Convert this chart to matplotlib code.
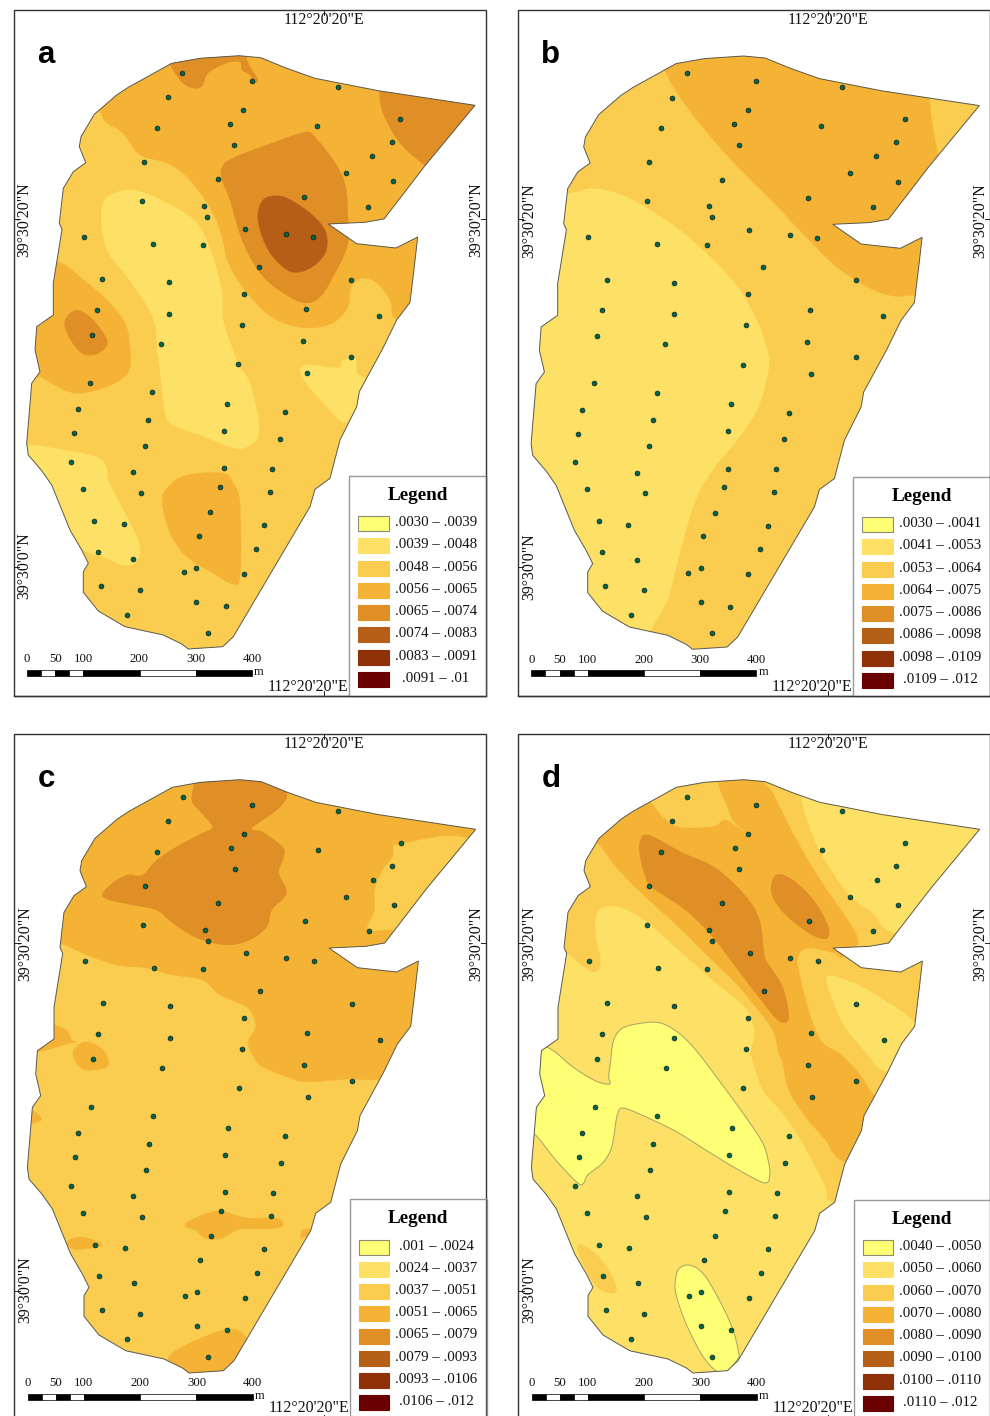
import numpy as np
import matplotlib
matplotlib.use('Agg')
import matplotlib.pyplot as plt
from matplotlib.patches import Polygon, Rectangle

plt.rcParams['font.family'] = ['Liberation Serif', 'DejaVu Sans']

# class colours, lowest to highest
CLASS_COLORS = ['#FFFF75', '#FDE166', '#FACC4F', '#F5B335', '#E08E26', '#B55E17', '#8F320A', '#6B0000']

LEGEND_A = ['.0030 – .0039', '.0039 – .0048', '.0048 – .0056', '.0056 – .0065',
            '.0065 – .0074', '.0074 – .0083', '.0083 – .0091', '.0091 – .01']
LEGEND_B = ['.0030 – .0041', '.0041 – .0053', '.0053 – .0064', '.0064 – .0075',
            '.0075 – .0086', '.0086 – .0098', '.0098 – .0109', '.0109 – .012']
LEGEND_C = ['.001 – .0024', '.0024 – .0037', '.0037 – .0051', '.0051 – .0065',
            '.0065 – .0079', '.0079 – .0093', '.0093 – .0106', '.0106 – .012']
LEGEND_D = ['.0040 – .0050', '.0050 – .0060', '.0060 – .0070', '.0070 – .0080',
            '.0080 – .0090', '.0090 – .0100', '.0100 – .0110', '.0110 – .012']

SCALE_METRES = [0, 25, 50, 75, 100, 200, 300, 400]
SCALE_LABELS = [0, 50, 100, 200, 300, 400]

# study area outline, map coordinates of panel a
OUTLINE = [(239, 55.7), (260.7, 57.7), (286.7, 68.3), (315, 78.3), (378.3, 90.7), (475, 105.3),
           (425, 165.7), (384, 219), (365, 222.3), (328.3, 224), (356.7, 243.7), (396, 248),
           (417.7, 237), (414.3, 266.7), (410, 302.3), (396.7, 320), (382.5, 349), (359.3, 391.7),
           (356.7, 406.7), (340, 440), (330, 478.3), (315, 489.3), (310, 506.7), (233.3, 636.7),
           (222.7, 646.7), (188.3, 649), (181.7, 644), (163.3, 635), (125, 626.7), (98.3, 611),
           (83.3, 592.3), (83.3, 571.7), (88.3, 563.3), (81.7, 550), (70, 530), (51.7, 485),
           (41.7, 470.7), (28.3, 455), (26.7, 443.3), (31.7, 383.3), (40, 371.7), (35, 350),
           (36.7, 326.7), (53.3, 315), (53.3, 283.3), (62, 229.3), (59.3, 223.3), (63.3, 188.3),
           (73.3, 171.7), (85.7, 162.7), (79.3, 146.7), (81, 136.7), (94.3, 114.3), (116.7, 95),
           (128.3, 87.3), (171.7, 63.3), (200, 58.3)]

# sampling sites, same in all panels
SITES = [(182.3, 72.7), (251.7, 81), (337.7, 86.7), (167.7, 97.3), (243.3, 110), (400.3, 119),
         (156.7, 128), (230, 123.7), (317, 125.7), (234.3, 145), (391.7, 141.7), (372, 156),
         (144.3, 162), (217.7, 179.3), (345.7, 172.7), (393.3, 181.3), (304, 197.3), (368.3, 206.7),
         (142.3, 201), (204.3, 205.7), (207.3, 217), (84, 236.7), (245, 229.3), (285.7, 234.3),
         (313, 237.3), (153, 244), (202.7, 245), (259, 267), (102.3, 279.3), (169.3, 282.3),
         (351.3, 280), (243.7, 294), (97.3, 309.7), (169.3, 314), (306, 309.3), (379, 315.7),
         (241.7, 325), (92.3, 335.3), (161, 344), (303, 341.3), (238.3, 364.3), (351.3, 357),
         (307, 373.3), (90, 383), (152.3, 392.3), (77.7, 409.3), (227, 403.7), (148.3, 420),
         (284.7, 412.3), (74, 433.3), (224, 431), (280, 439), (145, 445.7), (70.7, 462),
         (132.7, 472.3), (224, 468.3), (272, 469), (82.7, 489), (141, 493), (220, 487),
         (270, 491.7), (210.3, 512.3), (94.3, 521), (124, 524.3), (263.7, 525.3), (199, 535.7),
         (98, 552), (133, 559.3), (256, 549), (196.3, 567.7), (184, 572.3), (244, 574),
         (101, 586), (139.7, 589.7), (196.3, 601.7), (226, 606.3), (126.7, 615), (207.7, 632.7)]

# zones: (class index, outline) painted in order over the base class
ZONES_A = [
    (3, [(100, 111), (123, 133), (140, 155), (167, 163), (190, 180), (213, 213), (222, 237), (230, 267),
         (253, 300), (277, 320), (307, 328), (333, 323), (348, 307), (351, 287), (362, 278), (377, 283),
         (390, 300), (397, 320), (440, 320), (450, 200), (500, 100), (300, 30), (100, 30)]),
    (4, [(222, 167), (233, 158), (267, 145), (302, 133), (315, 137), (343, 177), (348, 220), (347, 247),
         (333, 277), (320, 297), (305, 303), (283, 293), (260, 273), (242, 240), (230, 200), (222, 180)]),
    (5, [(258, 213), (263, 200), (273, 196), (287, 198), (310, 213), (325, 230), (327, 247), (322, 258),
         (312, 267), (300, 272), (287, 270), (270, 253), (260, 230)]),
    (4, [(378, 60), (379, 88), (383, 113), (400, 143), (425, 166), (445, 185), (500, 110), (470, 60)]),
    (4, [(171, 60), (180, 80), (192, 88), (202, 86), (208, 73), (227, 63), (240, 62), (242, 70),
         (250, 75), (253, 83), (258, 80), (250, 67), (239, 50), (200, 50)]),
    (3, [(58, 262), (80, 277), (107, 300), (125, 323), (130, 347), (130, 367), (123, 378), (103, 388),
         (73, 393), (40, 377), (20, 370), (20, 262)]),
    (4, [(65, 320), (77, 310), (93, 320), (107, 340), (103, 350), (93, 355), (80, 352), (68, 335)]),
    (1, [(101, 217), (107, 197), (133, 190), (167, 203), (197, 223), (213, 257), (222, 293), (223, 320),
         (233, 350), (240, 367), (250, 383), (258, 417), (258, 437), (247, 447), (233, 448), (200, 435),
         (173, 425), (165, 413), (160, 370), (157, 350), (153, 317), (127, 277), (107, 250)]),
    (1, [(302, 377), (305, 365), (338, 368), (343, 360), (355, 358), (357, 373), (365, 383), (347, 422),
         (327, 407)]),
    (1, [(27, 445), (53, 448), (97, 457), (107, 470), (108, 480), (118, 500), (137, 537), (140, 553),
         (135, 563), (123, 565), (103, 557), (83, 550), (40, 520), (10, 450)]),
    (3, [(162, 500), (170, 485), (187, 475), (223, 473), (233, 483), (240, 503), (240, 577), (230, 583),
         (213, 573), (187, 557), (170, 533)]),
]

ZONES_B = [
    (3, [(161, 71), (188, 114), (228, 161), (268, 201), (301, 236), (334, 268), (368, 289), (391, 296),
         (411, 295), (440, 300), (450, 200), (434, 155), (425, 98), (425, 40), (161, 40)]),
    (1, [(64, 193), (88, 188), (118, 195), (151, 213), (188, 240), (228, 280), (251, 317), (263, 350),
         (264, 370), (254, 407), (234, 438), (208, 470), (191, 500), (178, 543), (171, 570), (163, 600),
         (146, 630), (120, 670), (0, 600), (0, 193)]),
]

ZONES_C = [
    (3, [(40, 215), (62, 220), (86, 231), (116, 241), (146, 244), (172, 251), (202, 256), (219, 271),
         (246, 283), (254, 296), (254, 306), (247, 319), (257, 339), (269, 346), (289, 354), (306, 358),
         (349, 355), (381, 355), (450, 340), (490, 100), (300, 30), (50, 30)]),
    (2, [(396, 121), (429, 114), (446, 112), (466, 114), (490, 125), (430, 215), (391, 206), (367, 206),
         (374, 186), (374, 166), (382, 146), (392, 133), (393, 121)]),
    (4, [(191, 74), (201, 89), (212, 103), (202, 109), (179, 121), (156, 136), (142, 151), (127, 151),
         (112, 159), (102, 173), (132, 181), (156, 186), (172, 199), (196, 214), (226, 221), (249, 216),
         (266, 203), (271, 186), (286, 169), (278, 149), (283, 133), (282, 123), (262, 108), (251, 104),
         (276, 86), (286, 68), (260, 45), (205, 45)]),
    (3, [(54, 301), (66, 306), (71, 316), (76, 318), (66, 320), (37, 328), (30, 320), (45, 300)]),
    (3, [(73, 326), (84, 318), (99, 323), (107, 333), (106, 343), (92, 346), (82, 345), (74, 336)]),
    (3, [(32, 387), (41, 395), (34, 399), (28, 399)]),
    (3, [(184, 501), (199, 492), (219, 487), (246, 494), (276, 494), (282, 502), (266, 505), (239, 505),
         (222, 514), (206, 515), (196, 507)]),
    (3, [(67, 517), (82, 513), (101, 520), (92, 524), (72, 525)]),
    (3, [(301, 507), (308, 505), (312, 507), (301, 514)]),
    (3, [(167, 635), (189, 619), (229, 605), (246, 614), (260, 640), (220, 670), (170, 660)]),
]

ZONES_D = [
    (2, [(40, 229), (62, 229), (73, 238), (89, 248), (96, 239), (91, 213), (91, 193), (98, 183), (118, 184),
         (144, 199), (174, 226), (214, 261), (241, 284), (249, 303), (249, 316), (246, 329), (248, 336),
         (258, 366), (278, 389), (298, 419), (321, 463), (329, 479), (400, 500), (450, 300), (450, 200),
         (389, 209), (368, 189), (346, 173), (318, 133), (303, 99), (296, 73), (290, 40), (60, 40), (40, 150)]),
    (3, [(93, 119), (114, 146), (141, 173), (174, 203), (204, 233), (231, 259), (251, 283), (268, 306),
         (274, 329), (278, 339), (284, 366), (301, 393), (321, 416), (340, 438), (400, 440), (400, 400),
         (369, 371), (354, 349), (334, 329), (318, 319), (308, 299), (301, 276), (294, 246), (293, 233),
         (303, 224), (329, 229), (338, 233), (352, 223), (351, 209), (334, 183), (311, 149), (288, 109),
         (268, 69), (259, 58), (255, 40), (215, 40), (213, 58), (223, 83), (228, 96), (241, 109), (221, 96),
         (208, 103), (174, 103), (158, 93), (146, 79), (130, 70), (80, 110)]),
    (4, [(135, 118), (144, 111), (178, 129), (214, 146), (251, 186), (259, 226), (261, 236), (278, 263),
         (284, 294), (274, 297), (254, 273), (231, 243), (208, 213), (181, 186), (148, 164), (141, 153),
         (136, 136)]),
    (4, [(267, 159), (274, 150), (291, 158), (311, 179), (324, 204), (321, 215), (304, 209), (281, 191),
         (268, 173)]),
    (1, [(322, 253), (341, 256), (368, 269), (410, 299), (425, 340), (382, 348), (361, 328), (341, 304),
         (329, 279)]),
    (2, [(73, 527), (78, 521), (98, 537), (112, 564), (104, 569), (89, 559)]),
    (0, [(44, 324), (68, 343), (91, 357), (105, 360), (104, 353), (106, 336), (109, 316), (118, 304),
         (138, 299), (156, 299), (174, 309), (191, 326), (214, 356), (241, 393), (258, 419), (264, 439),
         (265, 451), (260, 459), (234, 446), (201, 426), (174, 409), (148, 396), (119, 384), (113, 390),
         (111, 399), (109, 413), (106, 426), (98, 439), (83, 451), (79, 459), (73, 459), (51, 436),
         (31, 411), (15, 400), (15, 320)]),
    (0, [(171, 555), (174, 545), (184, 541), (198, 549), (214, 575), (228, 605), (234, 629), (233, 635),
         (223, 647), (213, 648), (198, 632), (181, 599), (171, 569)]),
]


def smooth(pts, steps=4):
    # closed Catmull-Rom through the read points, zone edges are curved in the original
    pts = np.array(pts, dtype=float)
    out = []
    for i in range(len(pts)):
        p0, p1, p2, p3 = pts[i - 1], pts[i], pts[(i + 1) % len(pts)], pts[(i + 2) % len(pts)]
        for t in np.arange(steps) / steps:
            out.append(0.5 * (2 * p1 + (p2 - p0) * t + (2 * p0 - 5 * p1 + 4 * p2 - p3) * t ** 2
                              + (3 * p1 - p0 - 3 * p2 + p3) * t ** 3))
    return np.array(out)


def draw_panel(ax, letter, dx, dy, base, zones, labels, leg_dy=0.0):
    def tr(pts):
        return np.array(pts, dtype=float) + [dx, dy]

    # frame
    ax.add_patch(Rectangle((13.7 + dx, 9.6 + dy), 472, 686.4, fc='white', ec='#333333', lw=1.0, zorder=1))

    clip = Polygon(tr(OUTLINE), closed=True, transform=ax.transData)
    ax.add_patch(Polygon(tr(OUTLINE), closed=True, fc=CLASS_COLORS[base], ec='none', zorder=2))
    for i, (cls, pts) in enumerate(zones):
        # the lowest class has a thin grey edge in the original
        ec = '#A3A368' if cls == 0 else CLASS_COLORS[cls]
        lw = 0.7 if cls == 0 else 0.2
        p = Polygon(tr(smooth(pts)), closed=True, fc=CLASS_COLORS[cls], ec=ec, lw=lw, zorder=3 + i * 0.01)
        ax.add_patch(p)
        p.set_clip_path(clip)
    ax.add_patch(Polygon(tr(OUTLINE), closed=True, fc='none', ec='#5A5A50', lw=0.7, zorder=4))

    sites = tr(SITES)
    ax.scatter(sites[:, 0], sites[:, 1], s=12, color='#00664F', edgecolors='#102018', linewidths=0.5, zorder=5)

    # graticule ticks and labels
    for x, y0, y1 in [(323.5, 9.6, 15), (323.5, 691, 696)]:
        ax.plot([x + dx, x + dx], [y0 + dy, y1 + dy], color='#222222', lw=0.7, zorder=6)
    for y in [219, 566.5]:
        ax.plot([13.7 + dx, 19 + dx], [y + dy, y + dy], color='#222222', lw=0.7, zorder=6)
        ax.plot([480.5 + dx, 485.7 + dx], [y + dy, y + dy], color='#222222', lw=0.7, zorder=6)
    ax.text(323.5 + dx, 19.5 + dy, '112°20\'20"E', ha='center', va='center', fontsize=11.4, color='#111111', zorder=7)
    # the lower row of panels runs to the page edge, keep this label on the page
    ax.text(308 + dx, min(687 + dy, 1408.5), '112°20\'20"E', ha='center', va='center', fontsize=11.4, color='#111111', zorder=7)
    ax.text(24.5 + dx, 220 + dy, '39°30\'20"N', rotation=90, ha='center', va='center', fontsize=11.4, color='#111111', zorder=7)
    ax.text(476 + dx, 220 + dy, '39°30\'20"N', rotation=90, ha='center', va='center', fontsize=11.4, color='#111111', zorder=7)
    ax.text(24.5 + dx, 566 + dy, '39°30\'0"N', rotation=90, ha='center', va='center', fontsize=11.4, color='#111111', zorder=7)

    ax.text(37 + dx, 63 + dy, letter, family='Liberation Sans', fontweight='bold', fontsize=22.5,
            ha='left', va='baseline', color='black', zorder=7)

    # scale bar
    for i in range(len(SCALE_METRES) - 1):
        x0 = 27 + 0.5625 * SCALE_METRES[i]
        x1 = 27 + 0.5625 * SCALE_METRES[i + 1]
        ax.add_patch(Rectangle((x0 + dx, 669.5 + dy), x1 - x0, 6.5, fc='black' if i % 2 == 0 else 'white',
                               ec='black', lw=0.5, zorder=6))
    for m in SCALE_LABELS:
        ax.text(27 + 0.5625 * m + dx, 659.5 + dy, str(m), ha='center', va='center', fontsize=9.2, color='#111111', zorder=7)
    ax.text(259 + dx, 672 + dy, 'm', ha='center', va='center', fontsize=9, color='#111111', zorder=7)

    # legend box
    ax.add_patch(Rectangle((349 + dx, 476 + leg_dy + dy), 137, 220 - leg_dy, fc='white', ec='#999999', lw=1.0, zorder=8))
    ax.plot([13.7 + dx, 485.7 + dx], [696 + dy, 696 + dy], color='#333333', lw=1.0, zorder=9)
    ax.plot([485.7 + dx, 485.7 + dx], [476 + dy, 696 + dy], color='#555555', lw=1.0, zorder=9)
    ax.text(417.5 + dx, 495.5 + leg_dy + dy, 'Legend', family='Liberation Serif', fontweight='bold', fontsize=13.8,
            ha='center', va='center', color='black', zorder=9)
    for i, lab in enumerate(labels):
        yc = 523.7 + 22.25 * i + leg_dy
        ec = '#8C8C70' if i == 0 else CLASS_COLORS[i]
        ax.add_patch(Rectangle((358 + dx, yc - 7.5 + dy), 30.5, 15, fc=CLASS_COLORS[i], ec=ec, lw=0.8, zorder=9))
        ax.text(435.7 + dx, yc - 1 + dy, lab, ha='center', va='center', fontsize=10.7, color='#111111', zorder=9)


fig = plt.figure(figsize=(9.9, 14.16), dpi=100)
ax = fig.add_axes([0, 0, 1, 1])
ax.set_xlim(0, 990)
ax.set_ylim(1416, 0)
ax.axis('off')

draw_panel(ax, 'a', 0.0, 0.0, 2, ZONES_A, LEGEND_A)
draw_panel(ax, 'b', 504.4, 0.3, 2, ZONES_B, LEGEND_B, leg_dy=0.7)
draw_panel(ax, 'c', 0.7, 724.0, 2, ZONES_C, LEGEND_C, leg_dy=-0.7)
draw_panel(ax, 'd', 504.7, 724.0, 1, ZONES_D, LEGEND_D)

fig.savefig('out.png', dpi=100)
